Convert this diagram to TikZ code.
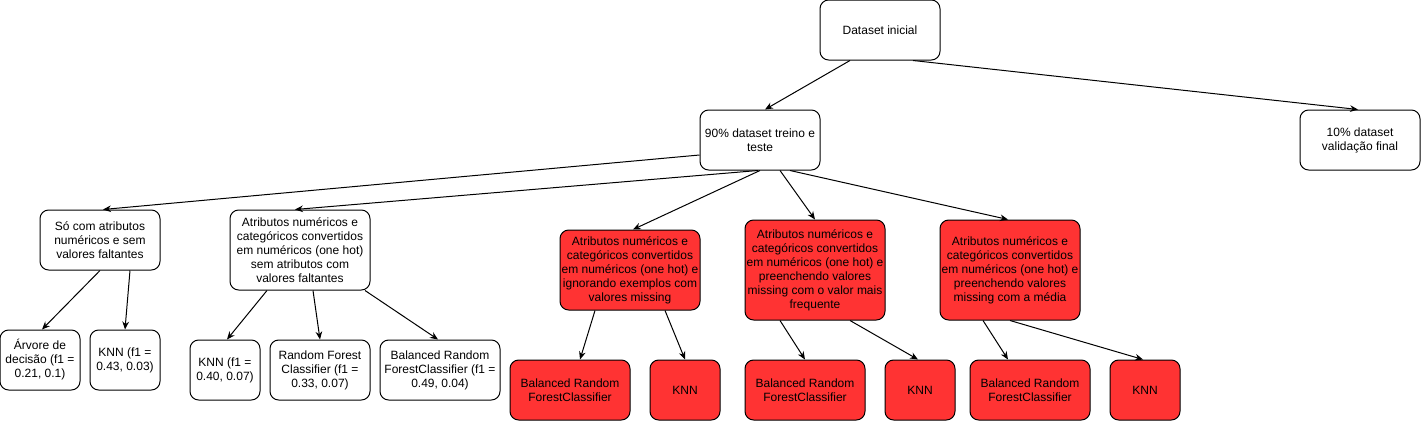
\documentclass[tikz,border=0pt]{standalone}
\usepackage{fontspec}
\setmainfont{Liberation Sans}
\usetikzlibrary{arrows.meta,calc}

\tikzset{every picture/.style={line width=0.75pt}}
\tikzset{
	box/.style={draw, rounded corners=6.5pt, align=center, inner sep=0pt, minimum width=90pt, minimum height=45pt, font=\fontsize{9}{10.5}\selectfont},
	redbox/.style={box, fill={rgb, 255:red, 255; green, 51; blue, 51 }},
	arr/.style={-{Stealth[length=6pt,width=5pt]}}
}

\begin{document}
\begin{tikzpicture}[x=0.75pt,y=0.75pt,yscale=-1,xscale=1]
	\useasboundingbox (0,0) rectangle (1421,421);

	%Rounded Rect: top
	\node [box] (ds) at (880,30) {Dataset inicial};
	%Rounded Rect: split
	\node [box] (tr) at (760,140) {90\% dataset treino e\\teste};
	\node [box] (va) at (1360,140) {10\% dataset\\validação final};
	%Rounded Rect: pre-processing
	\node [box] (so) at (100,240) {Só com atributos\\numéricos e sem\\valores faltantes};
	\node [box, minimum width=105pt, minimum height=60pt] (at) at (300,250) {Atributos numéricos e\\categóricos convertidos\\em numéricos (one hot)\\sem atributos com\\valores faltantes};
	\node [redbox, minimum width=105pt, minimum height=60pt] (r1) at (630,270) {Atributos numéricos e\\categóricos convertidos\\em numéricos (one hot) e\\ignorando exemplos com\\valores missing};
	\node [redbox, minimum width=105pt, minimum height=75pt] (r2) at (815,270) {Atributos numéricos e\\categóricos convertidos\\em numéricos (one hot) e\\preenchendo valores\\missing com o valor mais\\frequente};
	\node [redbox, minimum width=105pt, minimum height=75pt] (r3) at (1010,270) {Atributos numéricos e\\categóricos convertidos\\em numéricos (one hot) e\\preenchendo valores\\missing com a média};
	%Rounded Rect: models
	\node [box, minimum width=60pt] (ar) at (40,360) {Árvore de\\decisão (f1 =\\0.21, 0.1)};
	\node [box, minimum width=52.5pt] (k1) at (125,360) {KNN (f1 =\\0.43, 0.03)};
	\node [box, minimum width=52.5pt] (k2) at (225,370) {KNN (f1 =\\0.40, 0.07)};
	\node [box, minimum width=75pt] (rf) at (320,370) {Random Forest\\Classifier (f1 =\\0.33, 0.07)};
	\node [box] (bw) at (440,370) {Balanced Random\\ForestClassifier (f1 =\\0.49, 0.04)};
	\node [redbox] (b1) at (570,390) {Balanced Random\\ForestClassifier};
	\node [redbox, minimum width=52.5pt] (n1) at (685,390) {KNN};
	\node [redbox] (b2) at (805,390) {Balanced Random\\ForestClassifier};
	\node [redbox, minimum width=52.5pt] (n2) at (920,390) {KNN};
	\node [redbox] (b3) at (1030,390) {Balanced Random\\ForestClassifier};
	\node [redbox, minimum width=52.5pt] (n3) at (1145,390) {KNN};

	%Straight Lines
	\draw [arr] ($(ds.south)+(-30,0)$) -- ($(tr.north)+(5,0)$);
	\draw [arr] ($(ds.south)+(33,0)$) -- ($(va.north)+(-2,0)$);
	\draw [arr] ($(tr.west)+(0,15)$) -- ($(so.north)+(3,0)$);
	\draw [arr] ($(tr.south)+(-2,0)$) -- ($(at.north)+(-5,0)$);
	\draw [arr] (tr.south) -- ($(r1.north)+(3,0)$);
	\draw [arr] ($(tr.south)+(20,0)$) -- (r2.north);
	\draw [arr] ($(tr.south)+(30,0)$) -- ($(r3.north)+(-2,0)$);
	\draw [arr] (so.south) -- ($(ar.north)+(2,0)$);
	\draw [arr] ($(so.south)+(30,0)$) -- (k1.north);
	\draw [arr] ($(at.south)+(-33,0)$) -- ($(k2.north)+(2,0)$);
	\draw [arr] ($(at.south)+(13,0)$) -- (rf.north);
	\draw [arr] ($(at.south)+(65,0)$) -- ($(bw.north)+(-2,0)$);
	\draw [arr] ($(r1.south)+(-35,0)$) -- ($(b1.north)+(10,0)$);
	\draw [arr] ($(r1.south)+(35,0)$) -- (n1.north);
	\draw [arr] ($(r2.south)+(-35,0)$) -- (b2.north);
	\draw [arr] ($(r2.south)+(35,0)$) -- ($(n2.north)+(-2,0)$);
	\draw [arr] ($(r3.south)+(-27,0)$) -- ($(b3.north)+(-22,0)$);
	\draw [arr] (r3.south) -- ($(n3.north)+(-2,0)$);

\end{tikzpicture}
\end{document}
